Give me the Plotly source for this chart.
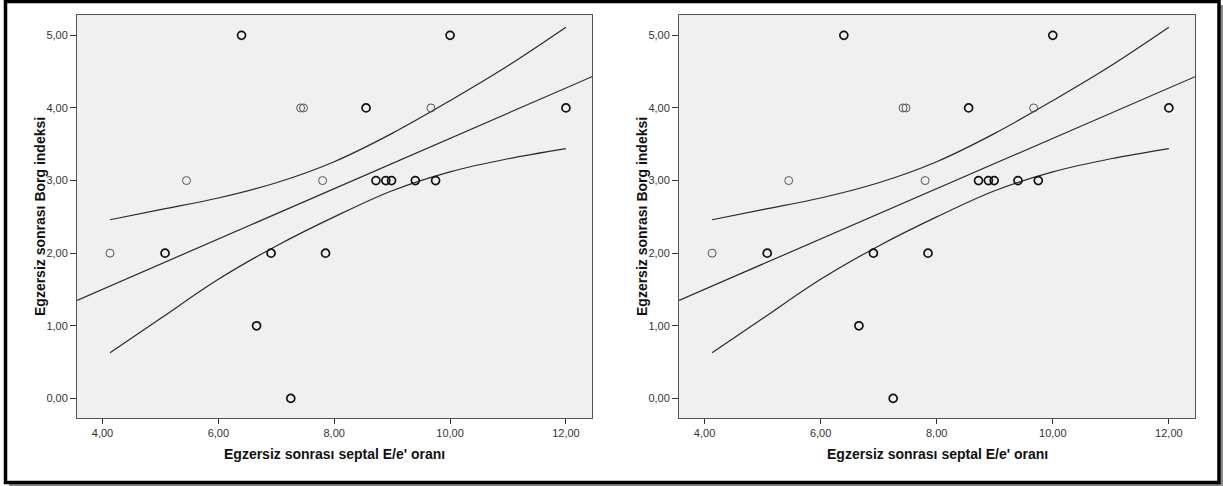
import plotly.graph_objects as go

# ---------------- data ----------------
ee_ratio = [6.40, 10.00, 7.42, 7.47, 8.55, 9.67, 12.00,
            5.45, 7.80, 8.72, 8.89, 8.99, 9.40, 9.75,
            4.13, 5.08, 6.91, 7.85, 6.66, 7.25]
borg = [5, 5, 4, 4, 4, 4, 4,
        3, 3, 3, 3, 3, 3, 3,
        2, 2, 2, 2, 1, 0]
# overlapping cases (1 = single, 2 = drawn darker)
n_cases = [2, 2, 1, 1, 2, 1, 2,
           1, 1, 2, 2, 2, 2, 2,
           1, 2, 2, 2, 2, 2]

fit_x = [3.56, 12.45]
fit_y = [1.35, 4.43]

ci_x = [4.13, 5.0, 6.0, 7.0, 8.0, 9.0, 10.0, 11.0, 12.0]
ci_up_y = [2.46, 2.60, 2.76, 2.97, 3.26, 3.65, 4.10, 4.58, 5.11]
ci_lo_y = [0.63, 1.10, 1.64, 2.10, 2.50, 2.86, 3.12, 3.30, 3.44]

x_ticks = [4, 6, 8, 10, 12]
y_ticks = [0, 1, 2, 3, 4, 5]
x_title = "Egzersiz sonrası septal E/e' oranı"
y_title = "Egzersiz sonrası Borg indeksi"

# ---------------- figure ----------------
W, H = 1223, 486
FONT = "Liberation Sans, Arial, sans-serif"


def px(x):
    return x / W


def py(y):
    return 1 - y / H


fig = go.Figure()

panels = [("x", "y"), ("x2", "y2")]
line_col = "#2a2a2a"
for xa, ya in panels:
    for cy in (ci_up_y, ci_lo_y):
        fig.add_trace(go.Scatter(
            x=ci_x, y=cy, mode="lines", xaxis=xa, yaxis=ya,
            line=dict(color=line_col, width=1.2, shape="spline", smoothing=1.0),
            showlegend=False, hoverinfo="skip"))
    fig.add_trace(go.Scatter(
        x=fit_x, y=fit_y, mode="lines", xaxis=xa, yaxis=ya,
        line=dict(color=line_col, width=1.2),
        showlegend=False, hoverinfo="skip"))
    fig.add_trace(go.Scatter(
        x=ee_ratio, y=borg, mode="markers", xaxis=xa, yaxis=ya,
        marker=dict(symbol="circle-open", size=8,
                    color=["#111111" if n > 1 else "#555555" for n in n_cases],
                    line=dict(width=[1.7 if n > 1 else 1.0 for n in n_cases])),
        showlegend=False))

axis_common = dict(showgrid=False, zeroline=False, showline=True, mirror=True,
                   linecolor="#555555", linewidth=1, ticks="outside",
                   tickcolor="#333333", tickformat=".2f",
                   tickfont=dict(family=FONT, size=11, color="#333333"))

y_dom = [py(418), py(15)]
fig.update_layout(
    xaxis=dict(domain=[px(77), px(592)], range=[3.56, 12.45], tickvals=x_ticks,
               ticklen=5, anchor="y", **axis_common),
    yaxis=dict(domain=y_dom, range=[-0.27, 5.28], tickvals=y_ticks,
               ticklen=6, anchor="x", **axis_common),
    xaxis2=dict(domain=[px(679), px(1195)], range=[3.56, 12.45], tickvals=x_ticks,
                ticklen=5, anchor="y2", **axis_common),
    yaxis2=dict(domain=y_dom, range=[-0.27, 5.28], tickvals=y_ticks,
                ticklen=6, anchor="x2", **axis_common),
)

annotations = []
for left, right in [(77, 592), (679, 1195)]:
    annotations.append(dict(
        text=f"<b>{x_title}</b>", xref="paper", yref="paper",
        x=px((left + right) / 2), y=py(454), xanchor="center", yanchor="middle",
        showarrow=False, font=dict(family=FONT, size=14, color="#111111")))
    annotations.append(dict(
        text=f"<b>{y_title}</b>", xref="paper", yref="paper",
        x=px(left - 37.5), y=py(216.5), xanchor="center", yanchor="middle",
        textangle=-90, showarrow=False,
        font=dict(family=FONT, size=14, color="#111111")))

shapes = [
    # shadow
    dict(type="line", xref="paper", yref="paper", x0=px(1222), x1=px(1222),
         y0=py(5), y1=py(486), line=dict(color="#8a8a8a", width=3)),
    dict(type="line", xref="paper", yref="paper", x0=px(9), x1=px(1223),
         y0=py(485), y1=py(485), line=dict(color="#8a8a8a", width=3)),
    # frame
    dict(type="rect", xref="paper", yref="paper", x0=px(5.5), x1=px(1219),
         y0=py(482.5), y1=py(1.5), line=dict(color="#000000", width=3.5)),
]

fig.update_layout(
    width=W, height=H, margin=dict(l=0, r=0, t=0, b=0),
    paper_bgcolor="white", plot_bgcolor="#f0f0f0",
    separators=",.", annotations=annotations, shapes=shapes,
    showlegend=False,
)

fig.write_html("out.html")
